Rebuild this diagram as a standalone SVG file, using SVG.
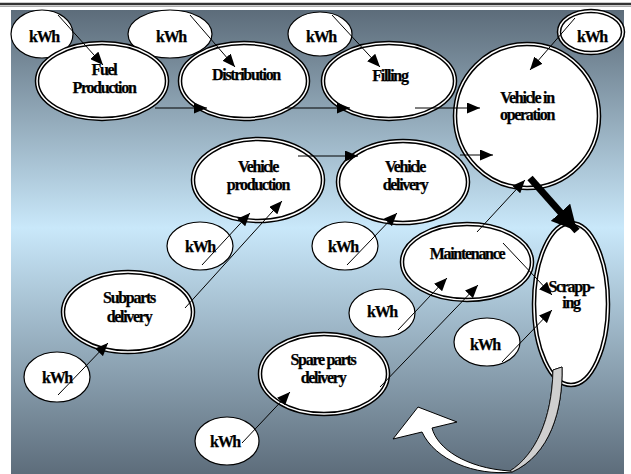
<svg xmlns="http://www.w3.org/2000/svg" width="631" height="474" viewBox="0 0 631 474">
<defs>
<linearGradient id="bg" x1="0" y1="10" x2="0" y2="474" gradientUnits="userSpaceOnUse">
<stop offset="0" stop-color="#5c6c7a"/>
<stop offset="0.47" stop-color="#c9e8fa"/>
<stop offset="1" stop-color="#5d6d7b"/>
</linearGradient>
<marker id="ah" viewBox="0 0 13 11" refX="13" refY="5.5" markerWidth="13" markerHeight="11" orient="auto" markerUnits="userSpaceOnUse"><path d="M0,0 L13,5.5 L0,11 z" fill="#000"/></marker>
<marker id="big" viewBox="0 0 25 26" refX="25" refY="13" markerWidth="25" markerHeight="26" orient="auto" markerUnits="userSpaceOnUse"><path d="M0,0 L25,13 L0,26 z" fill="#000"/></marker>
<style>
.dbl{fill:#fff;stroke:#000;stroke-width:4.5}
.gap{fill:none;stroke:#fff;stroke-width:1.5}
.kwh{fill:#fff;stroke:#000;stroke-width:1.2}
text{font-family:"Liberation Serif","Times New Roman",serif;font-weight:bold;font-size:16px;letter-spacing:-1.3px;text-anchor:middle;fill:#000;stroke:#000;stroke-width:0.25}
.ln{stroke:#000;stroke-width:1;fill:none;marker-end:url(#ah)}
</style>
</defs>
<rect x="0" y="0" width="631" height="474" fill="#fff"/>
<rect x="11" y="10" width="613" height="464" fill="url(#bg)"/>
<line x1="0" y1="4" x2="631" y2="4" stroke="#333" stroke-width="2.5"/>
<line x1="0" y1="6.5" x2="631" y2="6.5" stroke="#aaa" stroke-width="1"/>

<g id="kwh1"><ellipse class="kwh" cx="42" cy="34" rx="31" ry="24"/><text x="44" y="42">kWh</text></g>
<g id="kwh2"><ellipse class="kwh" cx="170" cy="34" rx="42" ry="24"/><text x="171" y="42">kWh</text></g>
<g id="kwh3"><ellipse class="kwh" cx="320" cy="34" rx="32" ry="22"/><text x="321" y="42">kWh</text></g>
<g id="kwh4"><ellipse class="dbl" cx="591" cy="32" rx="32" ry="21"/><ellipse class="gap" cx="591" cy="32" rx="32" ry="21"/><text x="592" y="42">kWh</text></g>
<g id="kwh5"><ellipse class="kwh" cx="200" cy="246" rx="33" ry="24"/><text x="200" y="252">kWh</text></g>
<g id="kwh6"><ellipse class="kwh" cx="345" cy="246" rx="33" ry="24"/><text x="343" y="252">kWh</text></g>
<g id="kwh7"><ellipse class="kwh" cx="57" cy="377" rx="33" ry="25"/><text x="57" y="383">kWh</text></g>
<g id="kwh8"><ellipse class="kwh" cx="227" cy="441" rx="32" ry="24"/><text x="225" y="447">kWh</text></g>
<g id="kwh9"><ellipse class="kwh" cx="382" cy="313" rx="33" ry="24"/><text x="382" y="317">kWh</text></g>
<g id="kwh10"><ellipse class="kwh" cx="487" cy="342" rx="33" ry="24"/><text x="485" y="350">kWh</text></g>

<g id="fuel"><ellipse class="dbl" cx="102" cy="81" rx="65" ry="38"/><ellipse class="gap" cx="102" cy="81" rx="65" ry="38"/><text x="104" y="75">Fuel</text><text x="104" y="93">Production</text></g>
<g id="distribution"><ellipse class="dbl" cx="244" cy="81" rx="64" ry="38"/><ellipse class="gap" cx="244" cy="81" rx="64" ry="38"/><text x="246" y="80">Distribution</text></g>
<g id="filling"><ellipse class="dbl" cx="389" cy="81" rx="66" ry="38"/><ellipse class="gap" cx="389" cy="81" rx="66" ry="38"/><text x="390" y="81">Filling</text></g>
<g id="operation"><ellipse class="dbl" cx="527" cy="116" rx="72" ry="72"/><ellipse class="gap" cx="527" cy="116" rx="72" ry="72"/><text x="527" y="103">Vehicle in</text><text x="527" y="120">operation</text></g>
<g id="vprod"><ellipse class="dbl" cx="258" cy="180" rx="65" ry="41"/><ellipse class="gap" cx="258" cy="180" rx="65" ry="41"/><text x="258" y="172">Vehicle</text><text x="258" y="190">production</text></g>
<g id="vdel"><ellipse class="dbl" cx="403" cy="182" rx="65" ry="41"/><ellipse class="gap" cx="403" cy="182" rx="65" ry="41"/><text x="405" y="172">Vehicle</text><text x="405" y="190">delivery</text></g>
<g id="subparts"><ellipse class="dbl" cx="128" cy="312" rx="65" ry="40"/><ellipse class="gap" cx="128" cy="312" rx="65" ry="40"/><text x="129" y="303">Subparts</text><text x="129" y="322">delivery</text></g>
<g id="spare"><ellipse class="dbl" cx="324" cy="374" rx="64" ry="40"/><ellipse class="gap" cx="324" cy="374" rx="64" ry="40"/><text x="323" y="365">Spare parts</text><text x="323" y="383">delivery</text></g>
<g id="maintenance"><ellipse class="dbl" cx="467" cy="262" rx="65" ry="38"/><ellipse class="gap" cx="467" cy="262" rx="65" ry="38"/><text x="467" y="259">Maintenance</text></g>
<g id="scrapping"><ellipse class="dbl" cx="571" cy="304" rx="37" ry="81"/><ellipse class="gap" cx="571" cy="304" rx="37" ry="81"/><text x="571" y="292">Scrapp-</text><text x="571" y="308">ing</text></g>

<g id="connectors">
<line class="ln" x1="58" y1="15" x2="103" y2="65"/>
<line class="ln" x1="190" y1="15" x2="235" y2="67"/>
<line class="ln" x1="332" y1="15" x2="380" y2="67"/>
<line class="ln" x1="575" y1="18" x2="530" y2="70"/>
<line class="ln" x1="155" y1="108" x2="207" y2="108"/>
<line class="ln" x1="285" y1="108" x2="350" y2="108"/>
<line class="ln" x1="415" y1="108" x2="480" y2="108"/>
<line class="ln" x1="298" y1="156" x2="358" y2="156"/>
<line class="ln" x1="460" y1="155" x2="493" y2="155"/>
<line class="ln" x1="202" y1="265" x2="250" y2="213"/>
<line class="ln" x1="185" y1="308" x2="282" y2="201"/>
<line class="ln" x1="347" y1="265" x2="397" y2="213"/>
<line class="ln" x1="58" y1="395" x2="108" y2="343"/>
<line class="ln" x1="242" y1="443" x2="290" y2="392"/>
<line class="ln" x1="398" y1="330" x2="447" y2="278"/>
<line class="ln" x1="380" y1="387" x2="478" y2="285"/>
<line class="ln" x1="477" y1="232" x2="525" y2="180"/>
<line class="ln" x1="503" y1="243" x2="552" y2="295"/>
<line class="ln" x1="502" y1="362" x2="552" y2="310"/>
<line x1="530" y1="178" x2="577" y2="231" stroke="#000" stroke-width="7" marker-end="url(#big)"/>
<path d="M418,407 L457,422 L432,428 C437,448 465,468 510,471 C535,455 552,420 553,370 L562,367 C563,410 550,455 512,472 C475,476 435,460 422,432 L393,439 Z" fill="#fff" stroke="#000" stroke-width="1"/>
<path d="M510,471 C535,455 552,420 553,370 L562,367 C563,410 550,455 512,472 Z" fill="#cfcfcf" stroke="#000" stroke-width="0.8"/>
</g>
</svg>
